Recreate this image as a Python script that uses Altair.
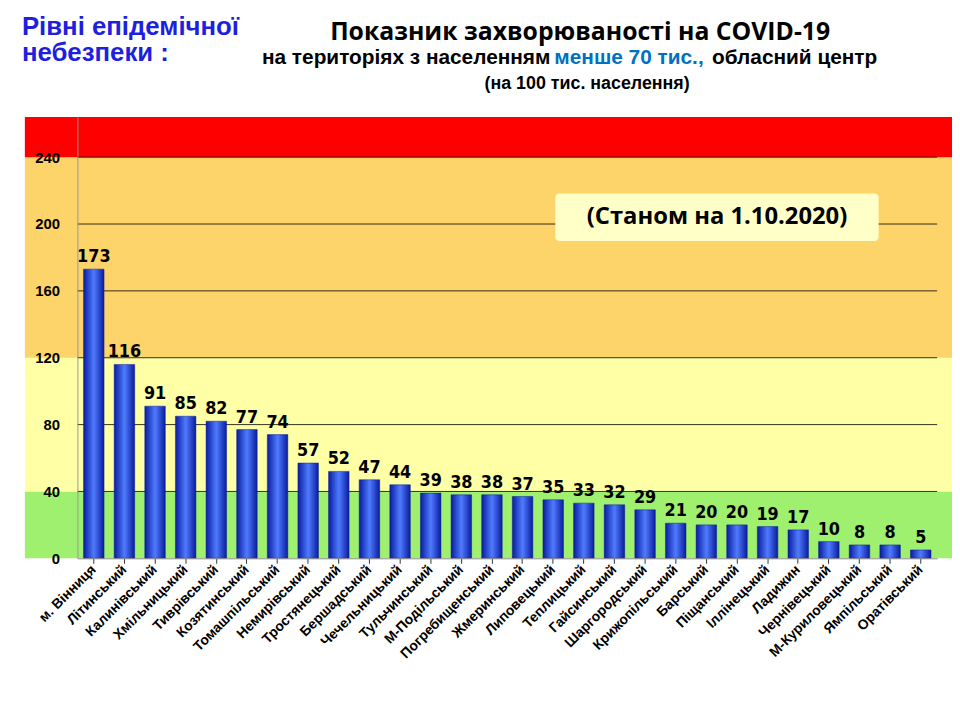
import pandas as pd
import altair as alt

# data
districts = ["м. Вінниця", "Літинський", "Калинівський", "Хмільницький", "Тиврівський",
             "Козятинський", "Томашпільський", "Немирівський", "Тростянецький", "Бершадський",
             "Чечельницький", "Тульчинський", "М-Подільський", "Погребищенський", "Жмеринський",
             "Липовецький", "Теплицький", "Гайсинський", "Шаргородський", "Крижопільський",
             "Барський", "Піщанський", "Іллінецький", "Ладижин", "Чернівецький",
             "М-Куриловецький", "Ямпільський", "Оратівський"]
values = [173, 116, 91, 85, 82, 77, 74, 57, 52, 47, 44, 39, 38, 38, 37, 35, 33, 32, 29,
          21, 20, 20, 19, 17, 10, 8, 8, 5]

band_lo = [0, 40, 120, 240]
band_hi = [40, 120, 240, 264]
band_col = ["#9EF06E", "#FFFFA6", "#FDD46A", "#FF0000"]
y_ticks = [0, 40, 80, 120, 160, 200, 240]

df = pd.DataFrame({"district": districts, "value": values})
bands = pd.DataFrame({"lo": band_lo, "hi": band_hi, "col": band_col})
grid = pd.DataFrame({"v": y_ticks[1:]})

W, H = 867, 445
FONT = "Liberation Sans"
yscale = alt.Scale(domain=[0, 264], nice=False)

band_layer = alt.Chart(bands).mark_rect().encode(
    x=alt.value(-53), x2=alt.value(882),
    y=alt.Y("lo:Q", scale=yscale, title=None,
            axis=alt.Axis(values=y_ticks, grid=False, labelFont=FONT, zindex=1,
                          labelFontWeight="bold", labelFontSize=15, labelColor="black",
                          domainColor="#999", ticks=False, labelPadding=18)),
    y2="hi:Q",
    color=alt.Color("col:N", scale=None),
)

grid_layer = alt.Chart(grid).mark_rule(color="black", strokeWidth=0.8).encode(
    y=alt.Y("v:Q", scale=yscale), x=alt.value(0), x2=alt.value(W)
)

grad = alt.Gradient(
    gradient="linear", x1=0, x2=1, y1=0, y2=0,
    stops=[alt.GradientStop(color="#0A1C9E", offset=0),
           alt.GradientStop(color="#4F7BFF", offset=0.5),
           alt.GradientStop(color="#0A1C9E", offset=1)],
)

xenc = alt.X("district:N", sort=districts, title=None,
             scale=alt.Scale(paddingInner=0.33, paddingOuter=0.2),
             axis=alt.Axis(labelAngle=-45, labelAlign="right", labelBaseline="middle",
                           labelFont=FONT, labelFontWeight="bold", labelFontSize=14,
                           labelColor="black", labelPadding=4, tickColor="#333",
                           domainColor="#888", grid=False, zindex=1))

bars = alt.Chart(df).mark_bar(fill=grad, stroke="#0A1C9E", strokeWidth=0.5).encode(
    x=xenc,
    y=alt.Y("value:Q", scale=yscale),
)

labels = alt.Chart(df).mark_text(
    dy=-12, font="DejaVu Sans Condensed", fontWeight="bold", fontSize=18, color="black"
).encode(x=alt.X("district:N", sort=districts), y=alt.Y("value:Q", scale=yscale),
         text="value:Q")

box = alt.Chart(pd.DataFrame({"t": ["(Станом на 1.10.2020)"]})).mark_rect(
    fill="#FFFFC8", cornerRadius=4
).encode(x=alt.value(482), x2=alt.value(808), y=alt.value(77), y2=alt.value(125))
box_text = alt.Chart(pd.DataFrame({"t": ["(Станом на 1.10.2020)"]})).mark_text(
    font="Open Sans", fontWeight="bold", fontSize=24, color="black"
).encode(x=alt.value(645), y=alt.value(101), text="t:N")

title_txt = ["Рівні епідемічної", "небезпеки :", "Показник захворюваності на COVID-19",
             "на територіях з населенням", "менше 70 тис.,", "обласний центр",
             "(на 100  тис. населення)"]
title_x = [-56, -56, 507, 477, 481, 640, 514]
title_y = [-91, -65, -86, -59, -59, -59, -33]
title_size = [26, 26, 25, 21, 21, 21, 18]
title_align = ["left", "left", "center", "right", "left", "left", "center"]
title_col = ["#1F1FE0", "#1F1FE0", "black", "black", "#0070C0", "black", "black"]
title_font = [FONT, FONT, "Open Sans", FONT, FONT, FONT, FONT]

title_layers = []
for t, x, y, s, a, c, f in zip(title_txt, title_x, title_y, title_size, title_align,
                                title_col, title_font):
    title_layers.append(
        alt.Chart(pd.DataFrame({"t": [t]})).mark_text(
            font=f, fontWeight="bold", fontSize=s, align=a, color=c,
        ).encode(x=alt.value(x), y=alt.value(y), text="t:N")
    )

chart = alt.layer(band_layer, grid_layer, bars, labels, box, box_text,
                  *title_layers).properties(
    width=W, height=H,
    autosize=alt.AutoSizeParams(type="none"),
    padding={"left": 70, "top": 107, "right": 15, "bottom": 150},
    background="white",
).configure_view(stroke=None)

chart.save("out.html", embed_options={"renderer": "svg", "actions": False})
